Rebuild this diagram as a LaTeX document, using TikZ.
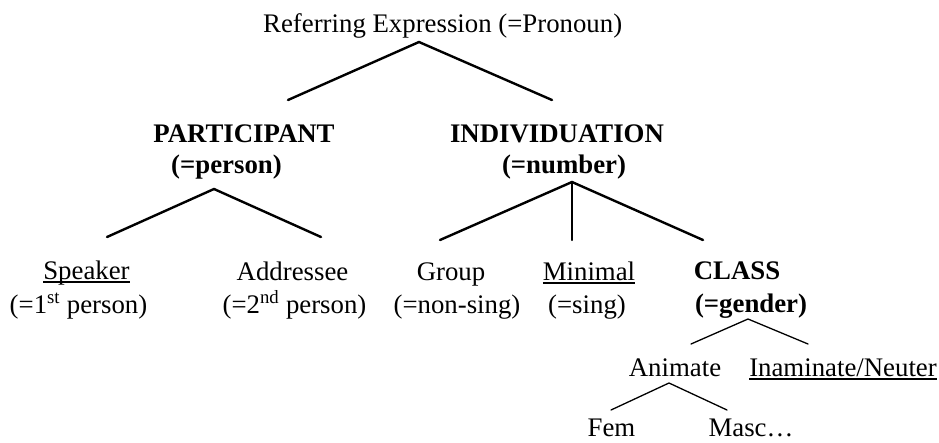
\documentclass[tikz,border=0pt]{standalone}
\usepackage{fontspec}
\setmainfont{Liberation Serif}
\newcommand\myul[1]{\setbox0\hbox{#1}\rlap{\rule[-4.2pt]{\wd0}{1.8pt}}\box0}
\begin{document}
\begin{tikzpicture}[x=1pt,y=-1pt,
  every node/.style={inner sep=0pt, anchor=base},
  txt/.style={font=\fontsize{26.8}{32}\selectfont},
  bftxt/.style={font=\fontsize{26.8}{32}\selectfont\bfseries},
  heavy/.style={line width=2.4pt, line cap=round},
  light/.style={line width=1.3pt, line cap=round}]
\useasboundingbox (0,0) rectangle (939,442);
% text nodes
\node[txt] (root) at (442.7,32) {Referring Expression (=Pronoun)};
\node[bftxt] (part) at (244,142) {PARTICIPANT};
\node[bftxt] (partsub) at (226.5,173) {(=person)};
\node[bftxt] (indiv) at (557,142) {INDIVIDUATION};
\node[bftxt] (indivsub) at (564,173) {(=number)};
\node[txt] (speaker) at (86.5,279) {\myul{Speaker}};
\node[txt] (speakersub) at (78.5,313) {(=1\textsuperscript{st} person)};
\node[txt] (addr) at (292.5,280) {Addressee};
\node[txt] (addrsub) at (294.5,313) {(=2\textsuperscript{nd} person)};
\node[txt] (group) at (451,280) {Group};
\node[txt] (groupsub) at (457,313) {(=non-sing)};
\node[txt] (minimal) at (589,280) {\myul{Minimal}};
\node[txt] (minimalsub) at (587,313) {(=sing)};
\node[bftxt] (class) at (737,279) {CLASS};
\node[bftxt] (classsub) at (751,312) {(=gender)};
\node[txt] (animate) at (675,376) {Animate};
\node[txt] (inanim) at (843,376) {\myul{Inaminate/Neuter}};
\node[txt] (fem) at (611.5,436) {Fem};
\node[txt] (masc) at (751,436) {Masc\ldots};
% branch points
\coordinate (r0) at (419,42);
\coordinate (r1) at (288,100);
\coordinate (r2) at (552,100);
\coordinate (p0) at (214,189);
\coordinate (p1) at (107,237);
\coordinate (p2) at (321,237);
\coordinate (i0) at (572,182);
\coordinate (i1) at (440,240);
\coordinate (i2) at (572,240);
\coordinate (i3) at (703,240);
\coordinate (c0) at (748,319);
\coordinate (c1) at (691,344);
\coordinate (c2) at (808,344);
\coordinate (a0) at (669,383);
\coordinate (a1) at (611,410);
\coordinate (a2) at (727,410);
% connectors
\draw[heavy] (r1) -- (r0) -- (r2);
\draw[heavy] (p1) -- (p0) -- (p2);
\draw[heavy] (i1) -- (i0) -- (i3);
\draw[heavy] (i0) -- (i2);
\draw[light] (c1) -- (c0) -- (c2);
\draw[light] (a1) -- (a0) -- (a2);
\end{tikzpicture}
\end{document}
